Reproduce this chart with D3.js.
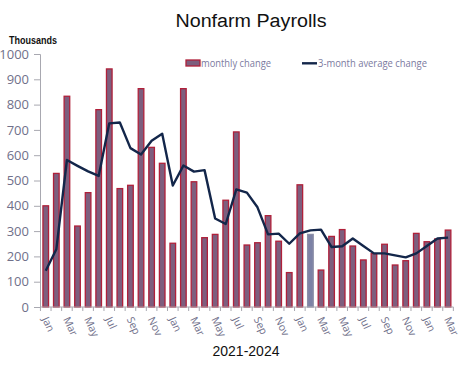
<!DOCTYPE html>
<html>
<head>
<meta charset="utf-8">
<script src="https://cdn.jsdelivr.net/npm/d3@7"></script>
<style>
  body { margin: 0; background: #fff; }
  svg { display: block; font-family: "Liberation Sans", Arial, sans-serif; }
</style>
</head>
<body>
<svg width="461" height="368"></svg>
<script>
var svg = d3.select("svg");

// Jan 2021 .. Mar 2024
var monthNames = ["Jan","Feb","Mar","Apr","May","Jun","Jul","Aug","Sep","Oct","Nov","Dec"];
var months = [];
for (var i = 0; i < 39; i++) {
    months.push(monthNames[i % 12] + " " + (2021 + Math.floor(i / 12)));
}

var monthlyChange = [400, 528, 833, 320, 452, 780, 941, 468, 481, 863, 631, 568,
                     252, 863, 495, 274, 287, 422, 692, 245, 254, 361, 260, 136,
                     483, 287, 146, 279, 306, 241, 186, 211, 248, 166, 183, 291,
                     258, 269, 304];

var avgChange = [143, 228, 581, 558, 536, 518, 726, 729, 628, 603, 657, 685,
                 480, 559, 535, 541, 350, 328, 465, 452, 394, 287, 290, 250,
                 291, 303, 306, 237, 240, 271, 241, 212, 212, 204, 196, 212,
                 241, 271, 274];

var yTicks = [0, 100, 200, 300, 400, 500, 600, 700, 800, 900, 1000];
var highlightMonth = "Feb 2023";

var x = d3.scaleBand().domain(months).range([40.4, 453.4]).paddingInner(0.47).paddingOuter(0.24);
var y = d3.scaleLinear().domain([0, 1000]).range([307, 54]);

var axisGray = "#a8a8b0";
var labelGray = "#70708a";

// title
svg.append("text")
    .text("Nonfarm Payrolls")
    .attr("x", 251)
    .attr("y", 27)
    .attr("text-anchor", "middle")
    .attr("font-size", 18)
    .attr("textLength", 151)
    .attr("lengthAdjust", "spacingAndGlyphs")
    .attr("fill", "#111");

svg.append("text")
    .text("Thousands")
    .attr("x", 9)
    .attr("y", 44)
    .attr("font-size", 10.5)
    .attr("font-weight", "bold")
    .attr("textLength", 48)
    .attr("lengthAdjust", "spacingAndGlyphs")
    .attr("fill", "#111");

// y axis
var yAxis = svg.append("g")
    .attr("transform", "translate(40,0)")
    .call(d3.axisLeft(y).tickValues(yTicks).tickFormat(d3.format("d")).tickSize(6).tickPadding(5));
yAxis.selectAll("path, line").attr("stroke", axisGray);
yAxis.selectAll("text")
    .attr("fill", labelGray)
    .attr("font-size", 13)
    .attr("font-family", "'Open Sans', sans-serif");

// bars
svg.selectAll("rect.bar").data(months).enter()
    .append("rect")
    .attr("class", "bar")
    .attr("x", function (d) { return x(d); })
    .attr("width", x.bandwidth())
    .attr("y", function (d, i) { return y(monthlyChange[i]); })
    .attr("height", function (d, i) { return y(0) - y(monthlyChange[i]); })
    .attr("fill", function (d) { return d == highlightMonth ? "#7c82a6" : "#7d5e7e"; })
    .attr("stroke", function (d) { return d == highlightMonth ? "#8c8fa8" : "#b0203a"; })
    .attr("stroke-width", 1.3);

// x axis
var xAxisG = svg.append("g").attr("transform", "translate(0,307)");
xAxisG.append("line")
    .attr("x1", x.range()[0]).attr("x2", x.range()[1])
    .attr("stroke", axisGray);
var step = x.step();
var boundaries = months.map(function (d) { return x(d) - x.paddingInner() * step / 2; });
boundaries.push(boundaries[boundaries.length - 1] + step);
xAxisG.selectAll("line.tick").data(boundaries).enter()
    .append("line")
    .attr("class", "tick")
    .attr("x1", function (d) { return d; })
    .attr("x2", function (d) { return d; })
    .attr("y1", 0).attr("y2", 4)
    .attr("stroke", axisGray);

xAxisG.selectAll("text").data(months.filter(function (d, i) { return i % 2 == 0; })).enter()
    .append("text")
    .text(function (d) { return d.split(" ")[0]; })
    .attr("transform", function (d) {
        return "translate(" + (x(d) + x.bandwidth() / 2 - 4) + ",12) rotate(65)";
    })
    .attr("font-size", 10.5)
    .attr("font-family", "'Open Sans', sans-serif")
    .attr("fill", labelGray);

svg.append("text")
    .text("2021-2024")
    .attr("x", 246)
    .attr("y", 356)
    .attr("text-anchor", "middle")
    .attr("font-size", 14)
    .attr("fill", "#111");

// 3-month average line
var line = d3.line()
    .x(function (d, i) { return x(months[i]) + x.bandwidth() / 2; })
    .y(function (d) { return y(d); });
svg.append("path")
    .datum(avgChange)
    .attr("d", line)
    .attr("fill", "none")
    .attr("stroke", "#13264a")
    .attr("stroke-width", 2.4)
    .attr("stroke-linejoin", "round");

// legend
var legend = svg.append("g");
legend.append("rect")
    .attr("x", 186).attr("y", 60)
    .attr("width", 14).attr("height", 6)
    .attr("fill", "#7d5e7e").attr("stroke", "#b0203a").attr("stroke-width", 1.3);
legend.append("text")
    .text("monthly change")
    .attr("x", 201).attr("y", 67)
    .attr("font-size", 11)
    .attr("font-family", "'Open Sans', sans-serif")
    .attr("textLength", 70)
    .attr("lengthAdjust", "spacingAndGlyphs")
    .attr("fill", "#7b7aa0");
legend.append("line")
    .attr("x1", 302).attr("x2", 317)
    .attr("y1", 63.3).attr("y2", 63.3)
    .attr("stroke", "#13264a").attr("stroke-width", 2.4);
legend.append("text")
    .text("3-month average change")
    .attr("x", 318).attr("y", 67)
    .attr("font-size", 11)
    .attr("font-family", "'Open Sans', sans-serif")
    .attr("textLength", 109)
    .attr("lengthAdjust", "spacingAndGlyphs")
    .attr("fill", "#7b7aa0");
</script>
</body>
</html>
